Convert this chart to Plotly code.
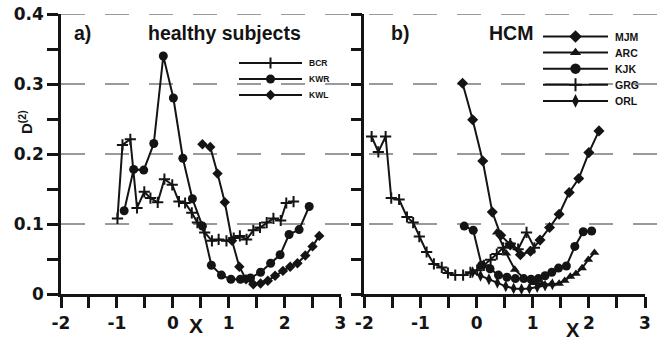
import plotly.graph_objects as go

# ---------------- data ----------------
# a) healthy subjects
BCR_x = [-0.99, -0.90, -0.76, -0.64, -0.51, -0.40, -0.27, -0.15, -0.01, 0.11, 0.22, 0.34, 0.44,
         0.57, 0.70, 0.82, 0.96, 1.09, 1.20, 1.32, 1.44, 1.56, 1.68, 1.80, 1.93, 2.03, 2.16]
BCR_y = [0.108, 0.213, 0.221, 0.123, 0.146, 0.137, 0.131, 0.164, 0.156, 0.132, 0.130, 0.116, 0.102,
         0.088, 0.076, 0.078, 0.076, 0.080, 0.083, 0.078, 0.091, 0.095, 0.102, 0.108, 0.105, 0.130, 0.132]

KWR_x = [-0.87, -0.70, -0.52, -0.34, -0.17, 0.01, 0.18, 0.35, 0.53, 0.69, 0.87, 1.04, 1.21, 1.39,
         1.57, 1.75, 1.92, 2.08, 2.26, 2.44]
KWR_y = [0.119, 0.178, 0.177, 0.215, 0.340, 0.280, 0.194, 0.136, 0.097, 0.041, 0.027, 0.021, 0.021,
         0.023, 0.031, 0.044, 0.056, 0.085, 0.092, 0.125]

KWL_x = [0.53, 0.67, 0.80, 0.93, 1.06, 1.19, 1.31, 1.44, 1.57, 1.70, 1.83, 1.97, 2.10, 2.23, 2.37,
         2.50, 2.62]
KWL_y = [0.214, 0.210, 0.172, 0.131, 0.076, 0.039, 0.021, 0.014, 0.015, 0.019, 0.026, 0.033, 0.039,
         0.044, 0.055, 0.068, 0.083]

# b) HCM
MJM_x = [-0.25, -0.07, 0.11, 0.28, 0.43, 0.60, 0.78, 0.96, 1.13, 1.30, 1.47, 1.65, 1.82, 2.00, 2.18]
MJM_y = [0.301, 0.249, 0.190, 0.117, 0.084, 0.070, 0.056, 0.061, 0.077, 0.095, 0.114, 0.145, 0.165,
         0.202, 0.233]

ARC_x = [0.36, 0.53, 0.68, 0.85, 1.01, 1.17, 1.33, 1.47, 1.57, 1.67, 1.77, 1.88, 1.99, 2.10]
ARC_y = [0.088, 0.058, 0.035, 0.022, 0.016, 0.014, 0.014, 0.015, 0.019, 0.025, 0.029, 0.037, 0.049,
         0.059]

KJK_x = [-0.22, -0.06, 0.09, 0.24, 0.39, 0.54, 0.69, 0.84, 0.97, 1.10, 1.22, 1.34, 1.46, 1.60, 1.75,
         1.90, 2.05]
KJK_y = [0.097, 0.091, 0.041, 0.036, 0.027, 0.024, 0.022, 0.022, 0.021, 0.022, 0.026, 0.031, 0.037,
         0.040, 0.068, 0.089, 0.090]

GRG_x = [-1.87, -1.75, -1.62, -1.52, -1.38, -1.24, -1.13, -1.02, -0.89, -0.76, -0.62, -0.51, -0.38,
         -0.24, -0.11, 0.01, 0.13, 0.25, 0.36, 0.47, 0.60, 0.74, 0.89, 1.03]
GRG_y = [0.225, 0.203, 0.225, 0.137, 0.135, 0.110, 0.102, 0.082, 0.060, 0.043, 0.038, 0.030, 0.027,
         0.027, 0.031, 0.034, 0.041, 0.049, 0.057, 0.066, 0.072, 0.064, 0.088, 0.066]

ORL_x = [-0.07, 0.07, 0.22, 0.37, 0.52, 0.66, 0.80, 0.94, 1.08, 1.22, 1.35]
ORL_y = [0.031, 0.026, 0.021, 0.016, 0.011, 0.008, 0.007, 0.008, 0.010, 0.012, 0.014]

X_TICKS = [-2, -1, 0, 1, 2, 3]
X_TICK_TEXT = ["-2", "-1", "0", "1", "2", "3"]
Y_TICKS = [0, 0.1, 0.2, 0.3, 0.4]
Y_TICK_TEXT = ["0", "0.1", "0.2", "0.3", "0.4"]
GRID_LEVELS = [0.1, 0.2, 0.3, 0.4]

# ---------------- styling ----------------
W, H = 661, 343
INK = "#141414"
GRID = "#7a7a7a"
TICK_FONT = dict(family="DejaVu Sans", size=17, color=INK, weight="bold")
LABEL_FAMILY = "Liberation Sans"


def px(x):
    return x / W


def py(y):
    return 1 - y / H


PLUS = dict(symbol="cross-thin", size=8, line=dict(width=2, color=INK))
SERIES_A = [
    ("BCR", BCR_x, BCR_y, PLUS),
    ("KWR", KWR_x, KWR_y, dict(symbol="circle", size=9)),
    ("KWL", KWL_x, KWL_y, dict(symbol="diamond", size=8)),
]
SERIES_B = [
    ("MJM", MJM_x, MJM_y, dict(symbol="diamond", size=8.5)),
    ("ARC", ARC_x, ARC_y, dict(symbol="triangle-up", size=8.5)),
    ("KJK", KJK_x, KJK_y, dict(symbol="circle", size=9)),
    ("GRG", GRG_x, GRG_y, PLUS),
    ("ORL", ORL_x, ORL_y, dict(symbol="diamond-tall", size=8.5)),
]

fig = go.Figure()

for name, xs, ys, mk in SERIES_A:
    fig.add_trace(go.Scatter(x=xs, y=ys, mode="lines+markers", name=name, xaxis="x", yaxis="y",
                             line=dict(color=INK, width=2), marker=dict(color=INK, **mk),
                             showlegend=False, cliponaxis=False))
for name, xs, ys, mk in SERIES_B:
    fig.add_trace(go.Scatter(x=xs, y=ys, mode="lines+markers", name=name, xaxis="x2", yaxis="y2",
                             line=dict(color=INK, width=2), marker=dict(color=INK, **mk),
                             showlegend=False, cliponaxis=False))

# ---------------- hand-drawn legends on a pixel overlay ----------------
annotations = []


def legend_block(series, x0, x1, y0, dy, text_x, font_size, scale):
    for i, (name, _, _, mk) in enumerate(series):
        y = y0 + i * dy
        fig.add_trace(go.Scatter(x=[x0, x1], y=[y, y], mode="lines", xaxis="x3", yaxis="y3",
                                 line=dict(color=INK, width=2), showlegend=False, hoverinfo="skip"))
        m = dict(mk)
        m["size"] = m["size"] * scale
        fig.add_trace(go.Scatter(x=[(x0 + x1) / 2], y=[y], mode="markers", xaxis="x3", yaxis="y3",
                                 marker=dict(color=INK, **m), showlegend=False, hoverinfo="skip"))
        annotations.append(dict(x=px(text_x), y=py(y), xref="paper", yref="paper", text=name,
                                showarrow=False, xanchor="left", yanchor="middle",
                                font=dict(family=LABEL_FAMILY, size=font_size, color=INK, weight="bold")))


legend_block(SERIES_A, 239, 302, 63, 16, 307, 8.5, 1.0)
legend_block(SERIES_B, 543, 608, 36.5, 16.1, 613, 10.5, 1.15)

# ---------------- text ----------------
def label(text, x, y, size, xanchor="left", angle=0):
    annotations.append(dict(x=px(x), y=py(y), xref="paper", yref="paper", text=text,
                            showarrow=False, xanchor=xanchor, yanchor="middle", textangle=angle,
                            font=dict(family=LABEL_FAMILY, size=size, color=INK, weight="bold")))


label("a)", 72, 33, 19.5)
label("healthy subjects", 146, 33, 19.5)
label("b)", 389, 33, 19.5)
label("HCM", 487, 33, 19.5)
label("X", 196, 325, 21, xanchor="center")
label("X", 573, 330, 20, xanchor="center")
label("D<sup>(2)</sup>", 25, 122, 15, xanchor="center", angle=-90)

# ---------------- dashed horizontal reference lines ----------------
shapes = []
for v in GRID_LEVELS:
    shapes.append(dict(type="line", xref="paper", yref="y", x0=px(61), x1=1.0, y0=v, y1=v,
                       line=dict(color=GRID, width=1.6, dash="24px,20px"), layer="below"))

# ---------------- axes ----------------
TICK_STYLE = dict(ticks="outside", ticklen=11, tickwidth=2.5, tickcolor=INK)

common_x = dict(range=[-2, 3], tickmode="array", tickvals=X_TICKS, ticktext=X_TICK_TEXT,
                minor=dict(dtick=0.5, tick0=0, showgrid=False, **TICK_STYLE), **TICK_STYLE,
                showline=True, linewidth=2.5, linecolor=INK, showgrid=False, zeroline=False,
                tickfont=TICK_FONT, ticklabelstandoff=1, fixedrange=True, automargin=False)
common_y = dict(range=[0, 0.4], tickmode="array", tickvals=Y_TICKS, ticktext=Y_TICK_TEXT,
                minor=dict(dtick=0.05, tick0=0, showgrid=False, **TICK_STYLE), **TICK_STYLE,
                showline=True, linewidth=2.5, linecolor=INK, showgrid=False, zeroline=False,
                tickfont=TICK_FONT, domain=[py(294), py(14)], fixedrange=True, automargin=False)

fig.update_layout(
    template="none",
    width=W, height=H, autosize=False,
    margin=dict(l=0, r=0, t=0, b=0, pad=0),
    paper_bgcolor="white", plot_bgcolor="rgba(0,0,0,0)",
    xaxis=dict(common_x, domain=[px(61), px(340.5)], anchor="y"),
    yaxis=dict(common_y, anchor="x"),
    xaxis2=dict(common_x, domain=[px(364.3), px(645)], anchor="y2"),
    yaxis2=dict(common_y, anchor="x2", showticklabels=False),
    xaxis3=dict(domain=[0, 1], range=[0, W], visible=False, anchor="y3", fixedrange=True,
                automargin=False),
    yaxis3=dict(domain=[0, 1], range=[H, 0], visible=False, anchor="x3", fixedrange=True,
                automargin=False),
    shapes=shapes,
    annotations=annotations,
    showlegend=False,
)

fig.write_html("out.html")
